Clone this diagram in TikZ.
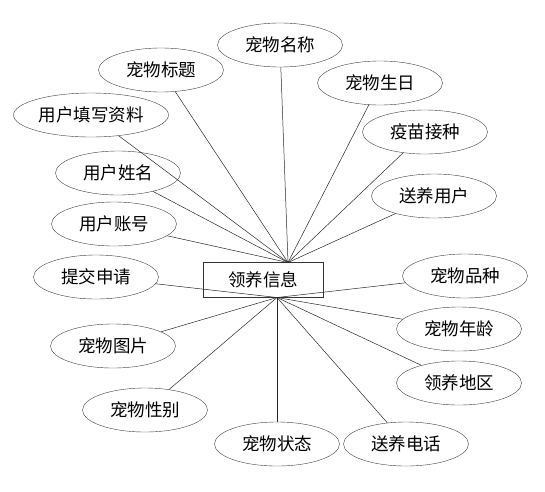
\documentclass[tikz,border=0pt]{standalone}
\usepackage{fontspec}
\newfontfamily\cjk{Noto Sans CJK SC}
\usetikzlibrary{shapes.geometric}

\begin{document}
\begin{tikzpicture}[
  x=1pt, y=-1pt,
  attr/.style={draw=black!75, ellipse, minimum width=125pt, minimum height=44pt, inner sep=0pt, font=\cjk\fontsize{17.5}{20}\selectfont},
  entity/.style={draw=black!80, rectangle, minimum width=120pt, minimum height=35pt, font=\cjk\fontsize{17.5}{20}\selectfont},
  link/.style={draw=black!85, line width=0.5pt},
]
  \useasboundingbox (0,0) rectangle (545,491);

  % entity
  \node[entity] (info) at (263,280) {领养信息};
  \coordinate (top) at (288,262.5);
  \coordinate (bot) at (277,297.5);

  % attributes above
  \node[attr] (name)   at (280,45)  {宠物名称};
  \node[attr] (title)  at (161,70)  {宠物标题};
  \node[attr] (birth)  at (380,83)  {宠物生日};
  \node[attr, minimum width=155pt] (fill) at (91,115) {用户填写资料};
  \node[attr] (vacc)   at (425,132) {疫苗接种};
  \node[attr] (uname)  at (118,173) {用户姓名};
  \node[attr] (giver)  at (434,196) {送养用户};
  \node[attr] (uacc)   at (114,224) {用户账号};

  % attributes below
  \node[attr] (apply)  at (96,277)  {提交申请};
  \node[attr] (breed)  at (465,276) {宠物品种};
  \node[attr] (pic)    at (113,346) {宠物图片};
  \node[attr] (age)    at (459,329) {宠物年龄};
  \node[attr] (area)   at (459,383) {领养地区};
  \node[attr] (sex)    at (145,410) {宠物性别};
  \node[attr] (state)  at (277,444) {宠物状态};
  \node[attr] (phone)  at (406,444) {送养电话};

  \draw[link] (top) -- (name);
  \draw[link] (top) -- (title);
  \draw[link] (top) -- (birth);
  \draw[link] (top) -- (fill);
  \draw[link] (top) -- (vacc);
  \draw[link] (top) -- (uname);
  \draw[link] (top) -- (giver);
  \draw[link] (top) -- (uacc);

  \draw[link] (bot) -- (apply);
  \draw[link] (bot) -- (breed);
  \draw[link] (bot) -- (pic);
  \draw[link] (bot) -- (age);
  \draw[link] (bot) -- (area);
  \draw[link] (bot) -- (sex);
  \draw[link] (bot) -- (state);
  \draw[link] (bot) -- (phone);
\end{tikzpicture}
\end{document}
